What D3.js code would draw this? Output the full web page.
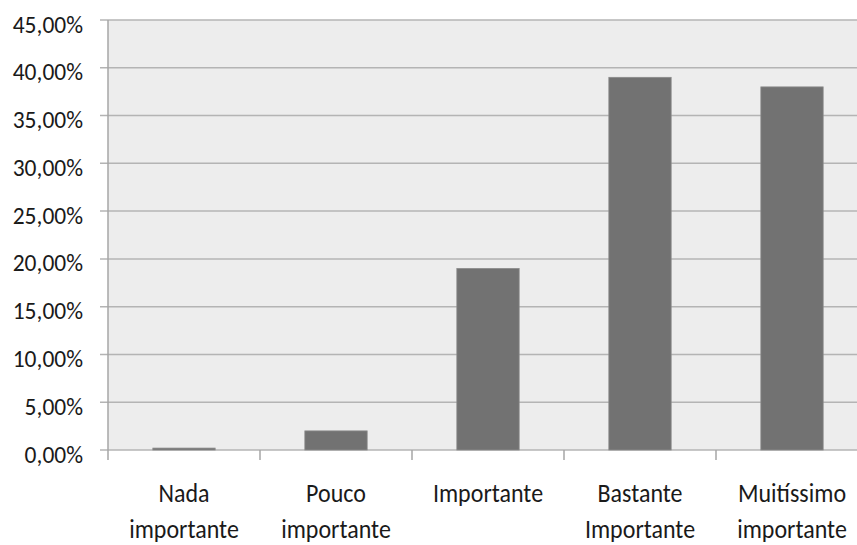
<!DOCTYPE html>
<html>
<head>
<meta charset="utf-8">
<script src="https://cdn.jsdelivr.net/npm/d3@7"></script>
<style>
  html, body { margin: 0; padding: 0; background: #ffffff; }
  svg { display: block; }
  text { font-family: Carlito, Lato, "Liberation Sans Narrow", sans-serif; fill: #1a1a1a; }
</style>
</head>
<body>
<svg id="chart" width="857" height="545"></svg>
<script>
// Categories (two-line labels) and their shares in percent
const categories = [
  ["Nada", "importante"],
  ["Pouco", "importante"],
  ["Importante"],
  ["Bastante", "Importante"],
  ["Muitíssimo", "importante"]
];
const values = [0.2, 2.0, 19.0, 39.0, 38.0];
const yTicks = [0, 5, 10, 15, 20, 25, 30, 35, 40, 45];

const svg = d3.select("#chart");
const margin = { left: 108, top: 20, right: -11, bottom: 95 };
const W = 857, H = 545;
const plotW = W - margin.left - margin.right;
const plotH = H - margin.top - margin.bottom;

const keys = categories.map((c, i) => i);
const x = d3.scaleBand().domain(keys).range([0, plotW])
  .paddingInner(0.59).paddingOuter(0.295);
const xOuter = d3.scaleBand().domain(keys).range([0, plotW]).padding(0);
const y = d3.scaleLinear().domain([0, 45]).range([plotH, 0]);

const g = svg.append("g").attr("transform", `translate(${margin.left},${margin.top})`);

// plot background
g.append("rect").attr("x", 0).attr("y", 0).attr("width", plotW).attr("height", plotH)
  .attr("fill", "#ededed");

// horizontal gridlines with left tick stubs
g.append("g").selectAll("line").data(yTicks).join("line")
  .attr("x1", -8).attr("x2", plotW)
  .attr("y1", d => y(d)).attr("y2", d => y(d))
  .attr("stroke", "#b4b4b4").attr("stroke-width", 1.5);

// y labels (slightly tall glyphs)
const fmt = d => d3.format(".2f")(d).replace(".", ",") + "%";
g.append("g").selectAll("text").data(yTicks).join("text")
  .attr("transform", d => `translate(-25,${y(d)}) scale(1,1.07)`)
  .attr("dy", "0.5em")
  .attr("text-anchor", "end").attr("font-size", 23.5)
  .text(fmt);

// left axis line
g.append("line").attr("x1", 0).attr("x2", 0).attr("y1", 0).attr("y2", plotH + 10)
  .attr("stroke", "#a6a6a6").attr("stroke-width", 1.5);

// category separator ticks
g.append("g").selectAll("line").data(keys.slice(1).concat([keys.length]))
  .join("line")
  .attr("x1", d => d < keys.length ? xOuter(d) : plotW)
  .attr("x2", d => d < keys.length ? xOuter(d) : plotW)
  .attr("y1", plotH).attr("y2", plotH + 10)
  .attr("stroke", "#a6a6a6").attr("stroke-width", 1.5);

// bars
g.append("g").selectAll("rect").data(values).join("rect")
  .attr("x", (d, i) => x(i))
  .attr("y", d => y(d))
  .attr("width", x.bandwidth())
  .attr("height", d => plotH - y(d))
  .attr("fill", "#727272")
  .attr("stroke", "#8c8c8c").attr("stroke-width", 0.8);

// category labels
const lab = g.append("g").selectAll("text").data(categories).join("text")
  .attr("text-anchor", "middle").attr("font-size", 24)
  .attr("transform", (d, i) => `translate(${xOuter(i) + xOuter.bandwidth() / 2},${plotH + 52}) scale(1,1.1)`);
lab.each(function(lines) {
  const t = d3.select(this);
  lines.forEach((ln, k) => t.append("tspan").attr("x", 0).attr("dy", k === 0 ? 0 : 33).text(ln));
});
</script>
</body>
</html>
